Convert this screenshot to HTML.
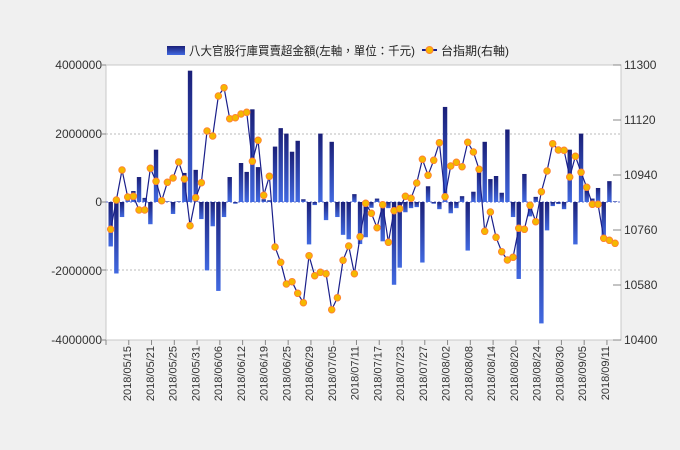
<!DOCTYPE html>
<html><head><meta charset="utf-8"><style>
body{margin:0;background:#f0f0f0;}
svg{display:block;font-family:"Liberation Sans","Noto Sans CJK TC",sans-serif;}
</style></head><body>
<svg id="c" width="680" height="450" viewBox="0 0 680 450" xmlns="http://www.w3.org/2000/svg">
<defs><linearGradient id="g" x1="0" y1="0" x2="0" y2="1"><stop offset="0" stop-color="#1a1f78"/><stop offset="1" stop-color="#4169e1"/></linearGradient></defs>
<rect x="0" y="0" width="680" height="450" fill="#f0f0f0"/>
<rect x="106" y="65" width="515" height="275" fill="#fff" stroke="#c8c8c8"/>
<line x1="106" y1="134" x2="621" y2="134" stroke="#bbb" stroke-dasharray="2,2"/>
<line x1="106" y1="270" x2="621" y2="270" stroke="#bbb" stroke-dasharray="2,2"/>
<line x1="106" y1="202" x2="621" y2="202" stroke="#6070d0" stroke-dasharray="2,2"/>
<g id="bars"></g>
<g id="line"></g>
<g font-size="12" fill="#333" text-anchor="end">
<text x="102" y="69">4000000</text><text x="102" y="138">2000000</text><text x="102" y="206">0</text><text x="102" y="275">-2000000</text><text x="102" y="344">-4000000</text>
</g>
<g stroke="#888"><line x1="100" y1="65" x2="106" y2="65"/><line x1="100" y1="134" x2="106" y2="134"/><line x1="100" y1="202" x2="106" y2="202"/><line x1="100" y1="270" x2="106" y2="270"/><line x1="100" y1="340" x2="106" y2="340"/>
<line x1="613" y1="65" x2="621" y2="65"/><line x1="613" y1="120" x2="621" y2="120"/><line x1="613" y1="175" x2="621" y2="175"/><line x1="613" y1="230" x2="621" y2="230"/><line x1="613" y1="285" x2="621" y2="285"/><line x1="613" y1="340" x2="621" y2="340"/></g>
<g font-size="12" fill="#333">
<text x="624" y="69">11300</text><text x="624" y="124">11120</text><text x="624" y="179">10940</text><text x="624" y="234">10760</text><text x="624" y="289">10580</text><text x="624" y="344">10400</text>
</g>
<g id="xt" font-size="11" fill="#333"></g>
<rect x="167" y="46" width="18" height="9" fill="url(#g)"/>
<text x="189" y="55" font-size="12" fill="#222" textLength="226" lengthAdjust="spacingAndGlyphs">八大官股行庫買賣超金額(左軸，單位：千元)</text>
<line x1="422" y1="50" x2="437" y2="50" stroke="#1a1f8a" stroke-width="2"/>
<circle cx="429.5" cy="50" r="3.5" fill="#f5b800" stroke="#ff8030"/>
<text x="441" y="55" font-size="12" fill="#222" textLength="68" lengthAdjust="spacingAndGlyphs">台指期(右軸)</text>
<g font-size="11" fill="#333">
<text transform="translate(131,346) rotate(-90)" text-anchor="end">2018/05/15</text>
<text transform="translate(153.8,346) rotate(-90)" text-anchor="end">2018/05/21</text>
<text transform="translate(176.5,346) rotate(-90)" text-anchor="end">2018/05/25</text>
<text transform="translate(199.3,346) rotate(-90)" text-anchor="end">2018/05/31</text>
<text transform="translate(222,346) rotate(-90)" text-anchor="end">2018/06/06</text>
<text transform="translate(244.8,346) rotate(-90)" text-anchor="end">2018/06/12</text>
<text transform="translate(267.5,346) rotate(-90)" text-anchor="end">2018/06/19</text>
<text transform="translate(290.3,346) rotate(-90)" text-anchor="end">2018/06/25</text>
<text transform="translate(313,346) rotate(-90)" text-anchor="end">2018/06/29</text>
<text transform="translate(335.8,346) rotate(-90)" text-anchor="end">2018/07/05</text>
<text transform="translate(358.5,346) rotate(-90)" text-anchor="end">2018/07/11</text>
<text transform="translate(381.3,346) rotate(-90)" text-anchor="end">2018/07/17</text>
<text transform="translate(404,346) rotate(-90)" text-anchor="end">2018/07/23</text>
<text transform="translate(426.8,346) rotate(-90)" text-anchor="end">2018/07/27</text>
<text transform="translate(449.5,346) rotate(-90)" text-anchor="end">2018/08/02</text>
<text transform="translate(472.3,346) rotate(-90)" text-anchor="end">2018/08/08</text>
<text transform="translate(495,346) rotate(-90)" text-anchor="end">2018/08/14</text>
<text transform="translate(517.8,346) rotate(-90)" text-anchor="end">2018/08/20</text>
<text transform="translate(540.5,346) rotate(-90)" text-anchor="end">2018/08/24</text>
<text transform="translate(563.3,346) rotate(-90)" text-anchor="end">2018/08/30</text>
<text transform="translate(586,346) rotate(-90)" text-anchor="end">2018/09/05</text>
<text transform="translate(608.8,346) rotate(-90)" text-anchor="end">2018/09/11</text>
</g>
</svg>
<script>
var b=[-1.30,-2.09,-0.44,0.22,0.32,0.73,0.12,-0.65,1.53,0.01,0.02,-0.35,0.02,0.85,3.84,0.94,-0.50,-2.0,-0.71,-2.6,-0.44,0.73,-0.05,1.14,0.88,2.71,1.02,0.08,0.05,1.62,2.16,2.0,1.47,1.79,0.08,-1.24,-0.09,2.0,-0.53,1.76,-0.44,-0.96,-1.09,0.23,-1.23,-1.03,-0.17,0.10,-1.15,-0.18,-2.42,-1.92,-0.30,-0.18,-0.15,-1.77,0.46,-0.05,-0.21,2.78,-0.33,-0.18,0.17,-1.42,0.30,0.91,1.76,0.67,0.76,0.27,2.12,-0.44,-2.25,0.82,-0.42,0.15,-3.55,-0.83,-0.12,-0.06,-0.21,1.53,-1.24,2.0,0.34,0.10,0.41,-0.98,0.61,0.02];
var l=[229.3,200,170,197,196.3,210,210,168.3,181.3,200.7,182.3,178,162,179,225.7,197.7,182.7,131,136,96,87.7,118.7,117.7,114,112.3,161.3,140.3,195.3,176.3,247,262.3,284,281.7,293.3,302.7,255.7,275.7,272.3,273.7,309.7,297.7,260.3,246,273.7,236.7,203.3,213.3,227.7,204.7,242.3,210.7,208.7,196.3,198.3,183,159.3,175.3,160.3,142.7,196.7,166,162.3,166.7,142.3,152,169.3,231.3,212,237.3,251.7,260,257.3,228.3,229.3,205.3,221.7,191.7,171,143.7,150,150.3,177,156.3,172.3,187.3,204.3,204.3,238.3,240.3,243.3];
var ns="http://www.w3.org/2000/svg",B=document.getElementById("bars"),L=document.getElementById("line");
function X(i){return 110.7+i*5.667;}
b.forEach(function(v,i){var r=document.createElementNS(ns,"rect");var y0=202,y1=202-v*34.2;r.setAttribute("x",X(i)-2.2);r.setAttribute("width",4.4);r.setAttribute("y",Math.min(y0,y1));r.setAttribute("height",Math.max(0.5,Math.abs(y1-y0)));r.setAttribute("fill","url(#g)");B.appendChild(r);});
var p=document.createElementNS(ns,"polyline");p.setAttribute("points",l.map(function(y,i){return X(i)+","+y;}).join(" "));p.setAttribute("fill","none");p.setAttribute("stroke","#1a1f8a");p.setAttribute("stroke-width","1.2");L.appendChild(p);
l.forEach(function(y,i){var c=document.createElementNS(ns,"circle");c.setAttribute("cx",X(i));c.setAttribute("cy",y);c.setAttribute("r",3.3);c.setAttribute("fill","#f5b800");c.setAttribute("stroke","#ff8030");c.setAttribute("stroke-width","0.9");L.appendChild(c);});
var T=document.getElementById("xt");
for(var k=0;k<23;k++){var x=106+k*22.77;var t=document.createElementNS(ns,"line");t.setAttribute("x1",x);t.setAttribute("x2",x);t.setAttribute("y1",340);t.setAttribute("y2",345);t.setAttribute("stroke","#888");T.appendChild(t);}
</script>
</body></html>
